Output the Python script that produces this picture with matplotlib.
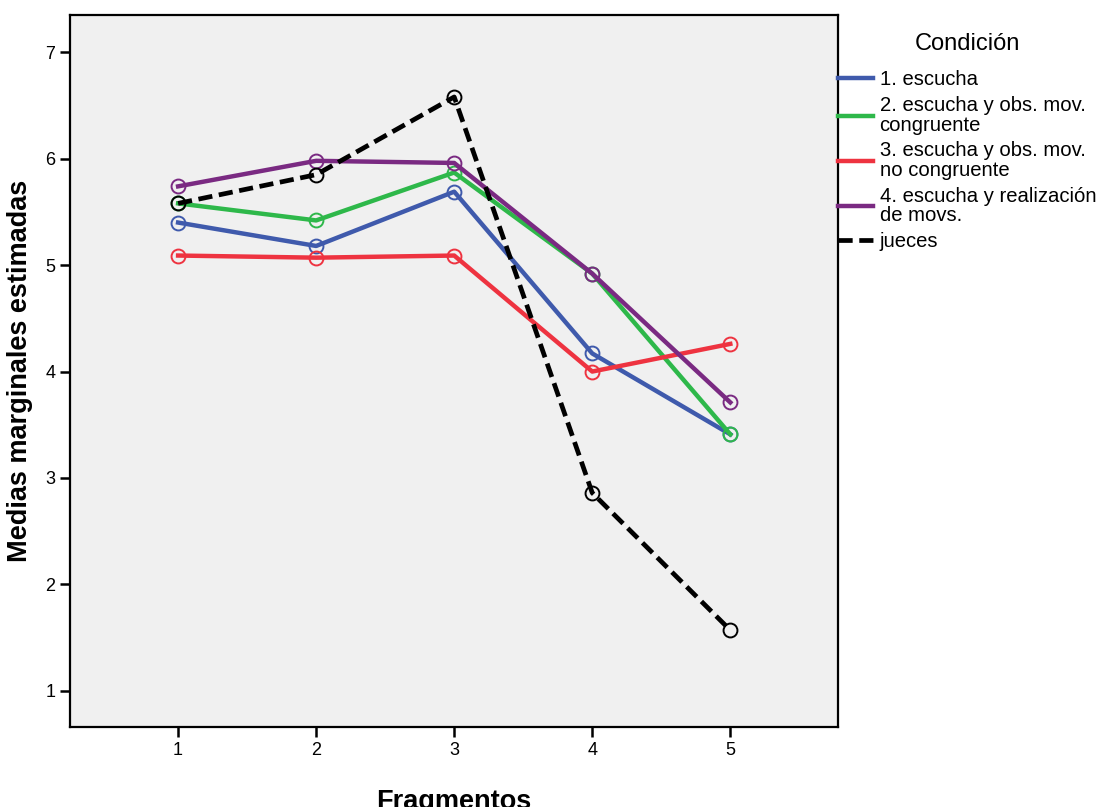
import matplotlib
matplotlib.use("Agg")
import matplotlib.pyplot as plt

plt.rcParams['font.family'] = ['Liberation Sans', 'DejaVu Sans']

fragmentos = [1, 2, 3, 4, 5]
escucha = [5.40, 5.18, 5.69, 4.17, 3.41]
obs_congruente = [5.58, 5.42, 5.87, 4.92, 3.41]
obs_no_congruente = [5.09, 5.07, 5.09, 4.00, 4.26]
realizacion = [5.74, 5.98, 5.96, 4.92, 3.71]
jueces = [5.58, 5.85, 6.58, 2.86, 1.57]

series = [
    (escucha, '1. escucha', '#3F5AAC', '-'),
    (obs_congruente, '2. escucha y obs. mov.\ncongruente', '#2EB84A', '-'),
    (obs_no_congruente, '3. escucha y obs. mov.\nno congruente', '#EE3340', '-'),
    (realizacion, '4. escucha y realización\nde movs.', '#7A2A82', '-'),
    (jueces, 'jueces', '#000000', '--'),
]

fig = plt.figure(figsize=(10.99, 8.07), dpi=100)
ax = fig.add_axes([0.0637, 0.0991, 0.6988, 0.8823])
ax.set_facecolor('#F0F0F0')

for vals, lab, col, ls in series:
    if ls == '--':
        ax.plot(fragmentos, vals, color=col, lw=3.4, ls=ls, dashes=(3, 1.4), label=lab)
    else:
        ax.plot(fragmentos, vals, color=col, lw=3.2, ls=ls, label=lab)
    ax.plot(fragmentos, vals, ls='none', marker='o', ms=10, mfc='none',
            mec=col, mew=1.4)

ax.set_xlim(0.217, 5.78)
ax.set_ylim(0.66, 7.35)
ax.set_xticks(fragmentos)
ax.set_yticks([1, 2, 3, 4, 5, 6, 7])
ax.tick_params(direction='out', length=7, width=1.8, labelsize=13)
for s in ax.spines.values():
    s.set_linewidth(1.6)

ax.set_xlabel('Fragmentos', fontsize=19.5, fontweight='bold', labelpad=22)
ax.set_ylabel('Medias marginales estimadas', fontsize=19.5, fontweight='bold', labelpad=9)

leg = ax.legend(loc='upper left', bbox_to_anchor=(1.0, 0.975), frameon=False,
                fontsize=14.6, title='Condición', title_fontsize=17,
                handlelength=1.75, handletextpad=0.3, borderaxespad=0,
                borderpad=0, labelspacing=0.33)
leg._legend_box.sep = 11
for t in leg.get_texts():
    t.set_linespacing(1.05)

fig.savefig('out.png', dpi=100)
